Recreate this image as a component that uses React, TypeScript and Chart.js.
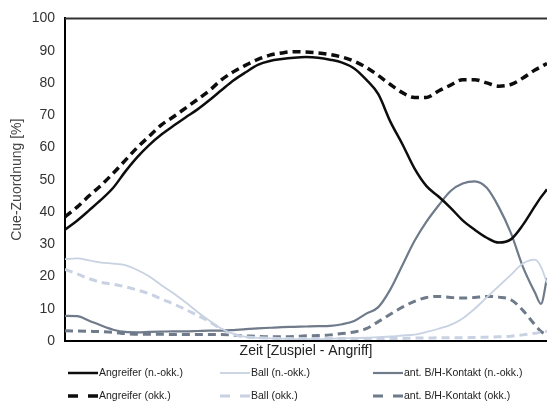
import React, { useEffect, useRef } from 'react';
import { Chart, registerables } from 'chart.js';

Chart.register(...registerables);

const FONT = "'Liberation Sans', Arial, sans-serif";

// time axis (percent of Zuspiel -> Angriff)
const timePoints = [
  0, 2.5, 5, 7.5, 10, 12.5, 15, 17.5, 20, 22.5,
  25, 27.5, 30, 32.5, 35, 37.5, 40, 42.5, 45, 47.5,
  50, 52.5, 55, 57.5, 60, 62.5, 65, 67.5, 70, 72.5,
  75, 77.5, 80, 82.5, 85, 87.5, 90, 92.5, 95, 97.5,
  98.75, 100,
];

const yTicks = [0, 10, 20, 30, 40, 50, 60, 70, 80, 90, 100];

const angreiferNokk = [
  34.5, 37.3, 40.5, 43.8, 47.5, 52.5, 57, 60.8, 64, 66.7,
  69.3, 71.8, 74.7, 77.8, 80.8, 83.3, 85.6, 86.8, 87.4, 87.8,
  88, 87.8, 87.2, 86.3, 84.5, 81, 76.5, 68, 61, 53.5,
  48, 44.8, 41.3, 37.4, 34.5, 32, 30.5, 31.5, 36, 41.8,
  44.6, 47,
];

const angreiferOkk = [
  38.5, 41.5, 45, 48.3, 52, 56, 60, 63.5, 67, 69.5,
  72.2, 74.9, 77.7, 81, 83.5, 85.5, 87.3, 88.6, 89.3, 89.7,
  89.6, 89.3, 88.8, 88, 86.7, 84.8, 82.3, 79.5, 77, 75.5,
  75.5, 77.5, 79.3, 81, 81, 80, 79, 79.5, 81.5, 84,
  85, 86,
];

const ballNokk = [
  25.4, 25.6, 25, 24.3, 24, 23.5, 22, 20, 17.3, 14.8,
  12, 9, 6.3, 3.8, 2.2, 1.3, 1, 0.8, 0.7, 0.6,
  0.6, 0.6, 0.7, 0.8, 0.9, 1, 1.2, 1.4, 1.7, 2,
  2.8, 3.8, 5, 7, 10, 13.5, 17, 20.5, 24, 25.2,
  23, 18,
];

const ballOkk = [
  22.2, 20.8, 19.3, 18.2, 17.6, 16.8, 15.8, 14.6, 13, 11.5,
  9.8, 7.9, 6, 3.6, 2, 1.3, 1, 0.9, 0.8, 0.8,
  0.8, 0.8, 0.8, 0.8, 0.8, 0.8, 0.8, 0.8, 0.8, 0.9,
  0.9, 1, 1, 1, 1.1, 1.2, 1.3, 1.5, 1.9, 2.4,
  2.7, 3,
];

const kontaktNokk = [
  7.8, 7.7, 6.3, 4.8, 3.5, 2.8, 2.7, 2.8, 2.9, 3,
  3, 3.1, 3.2, 3.2, 3.4, 3.7, 3.9, 4.1, 4.3, 4.4,
  4.5, 4.6, 4.7, 5.2, 6.2, 8.5, 10.5, 16, 23.5, 31,
  37, 42, 46.5, 48.8, 49.5, 47.5, 41.5, 33.5, 23, 15,
  11.5, 19.5,
];

const kontaktOkk = [
  3.2, 3.1, 3, 2.9, 2.7, 2.3, 2.1, 2.1, 2.1, 2,
  2, 2, 2, 2, 1.8, 1.6, 1.4, 1.3, 1.3, 1.4,
  1.6, 1.7, 1.9, 2.3, 2.8, 3.8, 6, 8.3, 10.5, 12.3,
  13.5, 13.8, 13.5, 13.3, 13.5, 13.8, 13.6, 12.8, 9.5, 5,
  3, 1.8,
];

const seriesLabels = [
  'Angreifer (n.-okk.)',
  'Ball (n.-okk.)',
  'ant. B/H-Kontakt (n.-okk.)',
  'Angreifer (okk.)',
  'Ball (okk.)',
  'ant. B/H-Kontakt (okk.)',
];

const BLACK = '#0d0d0d';
const LIGHT = '#c8d2e2';
const GRAY = '#6f7a8a';

const toPoints = (vals: number[]) => vals.map((v, i) => ({ x: timePoints[i], y: v }));

const legendPositions = [
  { x: 68, y: 373 },
  { x: 220, y: 373 },
  { x: 373, y: 373 },
  { x: 68, y: 396 },
  { x: 220, y: 396 },
  { x: 373, y: 396 },
];

const framePlugin = {
  id: 'frameAndLegend',
  afterDraw(chart: any) {
    const { ctx, chartArea } = chart;
    ctx.save();
    // top frame line
    ctx.strokeStyle = '#333';
    ctx.lineWidth = 2;
    ctx.beginPath();
    ctx.moveTo(chartArea.left, chartArea.top);
    ctx.lineTo(chartArea.right, chartArea.top);
    ctx.stroke();

    // legend in 3 columns x 2 rows
    chart.data.datasets.forEach((ds: any, i: number) => {
      const pos = legendPositions[i];
      ctx.beginPath();
      ctx.setLineDash(ds.legendDash || []);
      ctx.lineWidth = ds.legendWidth;
      ctx.strokeStyle = ds.borderColor;
      ctx.moveTo(pos.x, pos.y);
      ctx.lineTo(pos.x + 30, pos.y);
      ctx.stroke();
      ctx.setLineDash([]);
      ctx.fillStyle = '#222';
      ctx.font = `10.5px ${FONT}`;
      ctx.textBaseline = 'middle';
      ctx.textAlign = 'left';
      ctx.fillText(ds.label, pos.x + 31, pos.y);
    });
    ctx.restore();
  },
};

export default function App() {
  const canvasRef = useRef<HTMLCanvasElement | null>(null);

  useEffect(() => {
    if (!canvasRef.current) return;
    const mk = (i: number, data: number[], color: string, width: number, dash: number[] | undefined, legendWidth: number, legendDash?: number[]) => ({
      label: seriesLabels[i],
      data: toPoints(data),
      borderColor: color,
      backgroundColor: color,
      borderWidth: width,
      borderDash: dash || [],
      pointRadius: 0,
      fill: false,
      cubicInterpolationMode: 'monotone',
      legendWidth,
      legendDash,
    });
    const chart = new Chart(canvasRef.current, {
      type: 'line',
      data: {
        datasets: [
          mk(0, angreiferNokk, BLACK, 2.5, undefined, 2.5),
          mk(1, ballNokk, LIGHT, 1.8, undefined, 1.8),
          mk(2, kontaktNokk, GRAY, 2.2, undefined, 2.2),
          mk(3, angreiferOkk, BLACK, 3.5, [8, 5], 3.5, [10, 10]),
          mk(4, ballOkk, LIGHT, 3, [8, 5], 3, [10, 10]),
          mk(5, kontaktOkk, GRAY, 3, [8, 5], 3, [10, 10]),
        ] as any,
      },
      options: {
        animation: false,
        responsive: false,
        layout: { padding: { top: 15, right: 0, bottom: 0, left: 0 } },
        plugins: {
          legend: { display: false },
          tooltip: { enabled: false },
        },
        scales: {
          x: {
            type: 'linear',
            min: 0,
            max: 100,
            grid: { display: false, drawTicks: false },
            border: { display: true, color: '#000', width: 2 },
            ticks: { display: false },
            title: {
              display: true,
              text: 'Zeit [Zuspiel - Angriff]',
              color: '#222',
              font: { family: FONT, size: 14 },
              padding: { top: 0, bottom: 45 },
            },
            afterFit: (scale: any) => {
              scale.height = 64;
            },
          },
          y: {
            type: 'linear',
            min: 0,
            max: 100,
            grid: { display: false, drawTicks: false },
            border: { display: true, color: '#000', width: 2 },
            afterBuildTicks: (scale: any) => {
              scale.ticks = yTicks.map((v) => ({ value: v }));
            },
            ticks: {
              color: '#333',
              font: { family: FONT, size: 14 },
              padding: 10,
            },
            title: {
              display: true,
              text: 'Cue-Zuordnung [%]',
              color: '#444',
              font: { family: FONT, size: 14 },
              padding: { top: 9, bottom: 0 },
            },
            afterFit: (scale: any) => {
              scale.width = 65;
            },
          },
        },
      } as any,
      plugins: [framePlugin],
    });
    return () => chart.destroy();
  }, []);

  return (
    <div style={{ position: 'absolute', left: 0, top: 0, width: 547, height: 405, background: '#fff' }}>
      <canvas ref={canvasRef} width={547} height={405} style={{ width: 547, height: 405, display: 'block' }} />
    </div>
  );
}
